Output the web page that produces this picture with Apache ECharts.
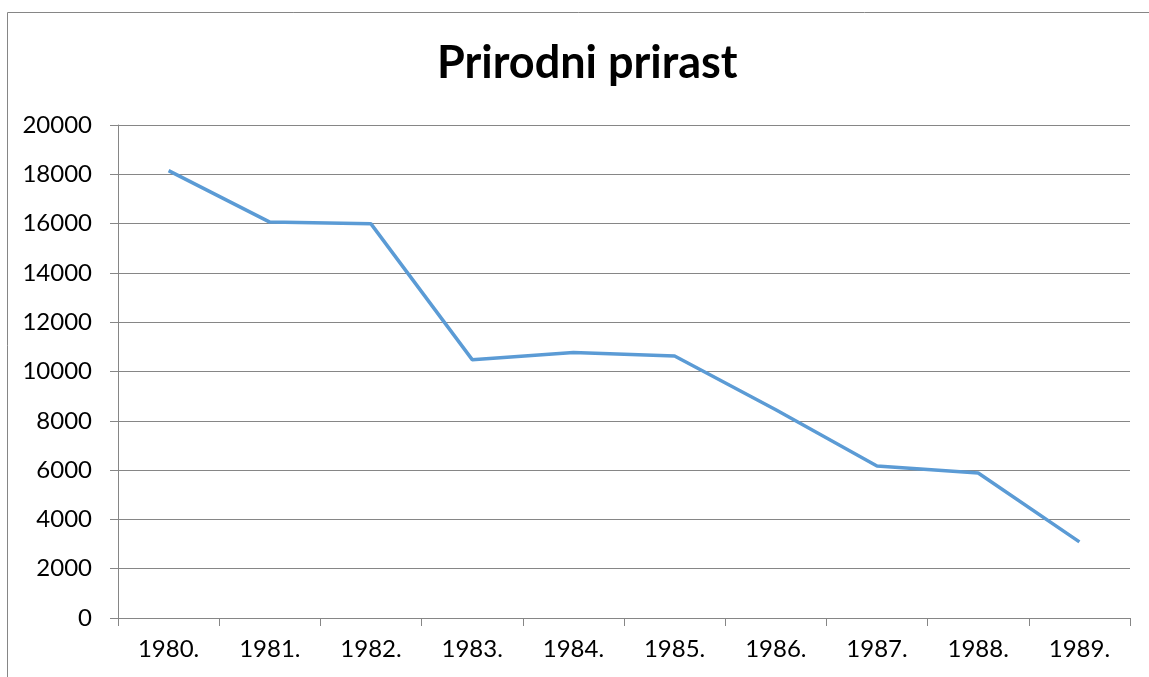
<!DOCTYPE html>
<html>
<head>
<meta charset="utf-8">
<script src="https://cdn.jsdelivr.net/npm/echarts@6/dist/echarts.min.js"></script>
<style>
  html, body { margin: 0; padding: 0; background: #fff; }
  #chart { width: 1149px; height: 677px; }
</style>
</head>
<body>
<div id="chart"></div>
<script>
  // godine i prirodni prirast (ocitano s grafa)
  let years = ['1980.', '1981.', '1982.', '1983.', '1984.', '1985.', '1986.', '1987.', '1988.', '1989.']
  let prirast = [18150, 16060, 15990, 10480, 10770, 10630, 8450, 6170, 5880, 3090]
  let yTicks = [0, 20000, 2000] // min, max, interval

  let myChart = echarts.init(document.getElementById('chart'))
  let gray = '#868686'
  let option = {
    animation: false,
    backgroundColor: '#fff',
    title: {
      text: 'Prirodni prirast',
      left: 432,
      top: 36,
      textStyle: {
        fontFamily: 'Lato',
        fontWeight: 'bold',
        fontSize: 45,
        color: '#000'
      }
    },
    graphic: [{
      type: 'rect',
      silent: true,
      shape: { x: 7.5, y: 12.5, width: 1200, height: 700 },
      style: { fill: 'none', stroke: gray, lineWidth: 1 }
    }],
    grid: {
      left: 118,
      right: 19,
      top: 125,
      bottom: 59
    },
    xAxis: {
      type: 'category',
      data: years,
      boundaryGap: true,
      axisLine: { lineStyle: { color: gray, width: 1 } },
      axisTick: { show: true, length: 8, lineStyle: { color: gray } },
      axisLabel: {
        margin: 19,
        fontFamily: 'Lato',
        fontSize: 24,
        color: '#000'
      }
    },
    yAxis: {
      type: 'value',
      min: yTicks[0],
      max: yTicks[1],
      interval: yTicks[2],
      axisLine: { show: true, lineStyle: { color: gray, width: 1 } },
      axisTick: { show: true, length: 8, lineStyle: { color: gray } },
      splitLine: { lineStyle: { color: gray, width: 1 } },
      axisLabel: {
        margin: 26,
        fontFamily: 'Lato',
        fontSize: 24,
        color: '#000',
        formatter: function (v) { return String(v) }
      }
    },
    series: [{
      name: 'Prirodni prirast',
      type: 'line',
      data: prirast,
      showSymbol: false,
      symbol: 'none',
      lineStyle: { color: '#5B9BD5', width: 3.5 },
      itemStyle: { color: '#5B9BD5' }
    }]
  }
  myChart.setOption(option)
</script>
</body>
</html>
